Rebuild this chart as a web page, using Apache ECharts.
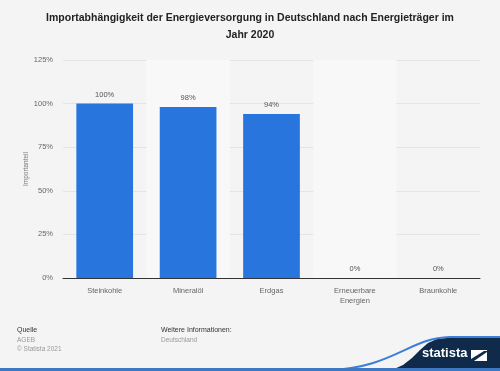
<!DOCTYPE html>
<html>
<head>
<meta charset="utf-8">
<script src="https://cdn.jsdelivr.net/npm/echarts@6/dist/echarts.min.js"></script>
<style>
html,body{margin:0;padding:0;background:#f4f4f4;}
#c{width:500px;height:371px;}
</style>
</head>
<body>
<div id="c"></div>
<script>
const categories = ['Steinkohle', 'Mineralöl', 'Erdgas', 'Erneuerbare\nEnergien', 'Braunkohle'];
const values = [100, 98, 94, 0, 0];
const yTicks = [0, 25, 50, 75, 100, 125];

const chart = echarts.init(document.getElementById('c'), null, {renderer: 'canvas'});
const font = 'Liberation Sans, Arial, sans-serif';
chart.setOption({
  backgroundColor: '#f4f4f4',
  animation: false,
  title: {
    text: 'Importabhängigkeit der Energieversorgung in Deutschland nach Energieträger im\nJahr 2020',
    left: 'center', top: 5,
    textStyle: {fontFamily: font, fontSize: 10.5, fontWeight: 'bold', color: '#222', lineHeight: 17}
  },
  grid: {left: 63, right: 20, top: 60, bottom: 93},
  xAxis: {
    type: 'category', data: categories,
    axisLine: {lineStyle: {color: '#333', width: 1}},
    axisTick: {show: false},
    splitArea: {show: true, areaStyle: {color: ['rgba(0,0,0,0)', '#f8f8f8']}},
    axisLabel: {fontFamily: font, fontSize: 7.5, color: '#666', margin: 8, lineHeight: 10}
  },
  yAxis: {
    type: 'value', min: yTicks[0], max: yTicks[yTicks.length - 1], interval: 25,
    name: 'Importanteil', nameLocation: 'middle', nameGap: 33, nameMoveOverlap: false,
    nameTextStyle: {fontFamily: font, fontSize: 6.5, color: '#777'},
    axisLine: {show: false}, axisTick: {show: false},
    splitLine: {lineStyle: {color: '#e4e4e4', width: 1}},
    axisLabel: {fontFamily: font, fontSize: 7.5, color: '#666', margin: 10, formatter: v => v + '%'}
  },
  series: [{
    type: 'bar', data: values, barCategoryGap: '32%',
    itemStyle: {color: '#2876dd'},
    label: {show: true, position: 'top', distance: 5, formatter: p => p.value + '%',
      fontFamily: font, fontSize: 7.5, color: '#555'}
  }],
  graphic: [
    {type: 'text', x: 17, y: 327, style: {text: 'Quelle', font: '7px ' + font, fill: '#333'}},
    {type: 'text', x: 17, y: 337, style: {text: 'AGEB', font: '6.5px ' + font, fill: '#999'}},
    {type: 'text', x: 17, y: 346, style: {text: '© Statista 2021', font: '6.5px ' + font, fill: '#999'}},
    {type: 'text', x: 161, y: 327, style: {text: 'Weitere Informationen:', font: '7px ' + font, fill: '#333'}},
    {type: 'text', x: 161, y: 337, style: {text: 'Deutschland', font: '6.5px ' + font, fill: '#999'}},
    {type: 'polygon', shape: {points: [[380,371],[393,369.5],[403,365],[412,358],[420,350],[428,343],[437,339],[447,338],[500,338],[500,371]]}, style: {fill: '#0f2a4a'}},
    {type: 'bezierCurve', shape: {x1: 325, y1: 370.5, cpx1: 395, cpy1: 368, cpx2: 408, cpy2: 338, x2: 450, y2: 337}, style: {fill: 'none', stroke: '#3b7fd6', lineWidth: 2}},
    {type: 'line', shape: {x1: 449, y1: 337, x2: 500, y2: 337}, style: {stroke: '#3b7fd6', lineWidth: 2}},
    {type: 'rect', shape: {x: 0, y: 368, width: 500, height: 3}, style: {fill: '#3d78c4'}},
    {type: 'text', x: 422, y: 347, style: {text: 'statista', font: 'bold 13px ' + font, fill: '#ffffff'}},
    {type: 'polygon', shape: {points: [[471,350],[487,350],[487,361],[471,361]]}, style: {fill: '#ffffff'}},
    {type: 'polygon', shape: {points: [[471,359],[484,351],[487,351],[487,352],[474,361],[471,361]]}, style: {fill: '#0f2a4a'}}
  ]
});
</script>
</body>
</html>
